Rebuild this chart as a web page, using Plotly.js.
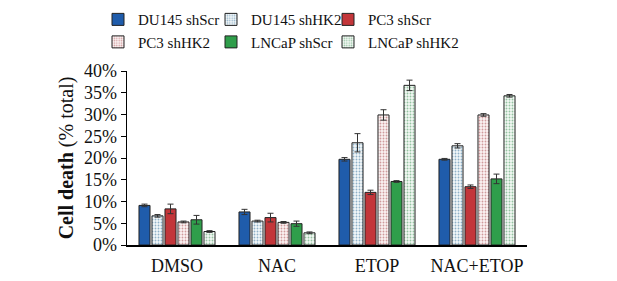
<!DOCTYPE html>
<html>
<head>
<meta charset="utf-8">
<script src="https://cdn.plot.ly/plotly-3.0.1.min.js"></script>
<style>html,body{margin:0;padding:0;background:#fff;}#chart{width:617px;height:281px;}</style>
</head>
<body>
<div id="chart"></div>
<script>
const categories = ["DMSO", "NAC", "ETOP", "NAC+ETOP"];
const seriesNames = ["DU145 shScr", "DU145 shHK2", "PC3 shScr", "PC3 shHK2", "LNCaP shScr", "LNCaP shHK2"];
const du145Scr = [9.1, 7.6, 19.7, 19.7];
const du145HK2 = [6.7, 5.5, 23.5, 22.8];
const pc3Scr = [8.3, 6.3, 12.1, 13.4];
const pc3HK2 = [5.3, 5.2, 29.9, 29.9];
const lncapScr = [5.8, 4.9, 14.6, 15.2];
const lncapHK2 = [3.1, 2.8, 36.7, 34.3];
const du145ScrErr = [0.3, 0.6, 0.4, 0.2];
const du145HK2Err = [0.3, 0.2, 2.1, 0.5];
const pc3ScrErr = [1.1, 1.0, 0.5, 0.4];
const pc3HK2Err = [0.2, 0.2, 1.2, 0.3];
const lncapScrErr = [1.0, 0.6, 0.2, 1.1];
const lncapHK2Err = [0.2, 0.2, 1.2, 0.3];

const values = [du145Scr, du145HK2, pc3Scr, pc3HK2, lncapScr, lncapHK2];
const errs = [du145ScrErr, du145HK2Err, pc3ScrErr, pc3HK2Err, lncapScrErr, lncapHK2Err];
const legendIds = ["legend", "legend2", "legend3", "legend", "legend2", "legend3"];
const styles = [
  {color: "#1f5cab"},
  {color: "#eef4f6", pattern: {shape: ".", fgcolor: "#8fb0c8", bgcolor: "#f3f8f9", size: 3, solidity: 0.3}},
  {color: "#c3363a"},
  {color: "#f6eeee", pattern: {shape: ".", fgcolor: "#d09a9c", bgcolor: "#fbf3f3", size: 3, solidity: 0.3}},
  {color: "#2f9e4b"},
  {color: "#eef6f0", pattern: {shape: ".", fgcolor: "#95c2a2", bgcolor: "#f3f9f4", size: 3, solidity: 0.3}}
];

const traces = seriesNames.map((name, i) => ({
  type: "bar",
  name: name,
  legend: legendIds[i],
  x: categories,
  y: values[i],
  error_y: {type: "data", array: errs[i], visible: true, color: "#333", thickness: 1, width: 3},
  marker: Object.assign({color: styles[i].color, line: {color: "#222", width: 1}}, styles[i].pattern ? {pattern: styles[i].pattern} : {})
}));

const legendBase = {
  orientation: "v", y: 1.39, xanchor: "left", yanchor: "top",
  font: {size: 15, family: "Liberation Serif, Times New Roman, serif"},
  itemwidth: 30, tracegroupgap: 0, traceorder: "normal", bgcolor: "rgba(0,0,0,0)"
};

const layout = {
  width: 617, height: 281,
  margin: {l: 127, r: 90, t: 71, b: 36, autoexpand: false},
  paper_bgcolor: "#fff", plot_bgcolor: "#fff",
  font: {family: "Liberation Serif, Times New Roman, serif", color: "#111", size: 16},
  barmode: "group",
  bargap: 0.22,
  bargroupgap: 0.15,
  showlegend: true,
  legend: Object.assign({}, legendBase, {x: -0.0725}),
  legend2: Object.assign({}, legendBase, {x: 0.21}),
  legend3: Object.assign({}, legendBase, {x: 0.5025}),
  xaxis: {
    showline: true, linecolor: "#000", linewidth: 1.5, ticks: "",
    tickfont: {size: 18}, fixedrange: true, automargin: false, ticklabelstandoff: 4
  },
  yaxis: {
    range: [0, 40], dtick: 5, ticksuffix: "%",
    showline: true, linecolor: "#000", linewidth: 1.5,
    ticks: "outside", ticklen: 5, tickcolor: "#000",
    showgrid: false, zeroline: false, automargin: false,
    tickfont: {size: 18},
    title: {text: "<b>Cell death</b> (% total)", font: {size: 20}, standoff: 5}
  }
};

Plotly.newPlot("chart", traces, layout, {displayModeBar: false, staticPlot: true});
</script>
</body>
</html>
